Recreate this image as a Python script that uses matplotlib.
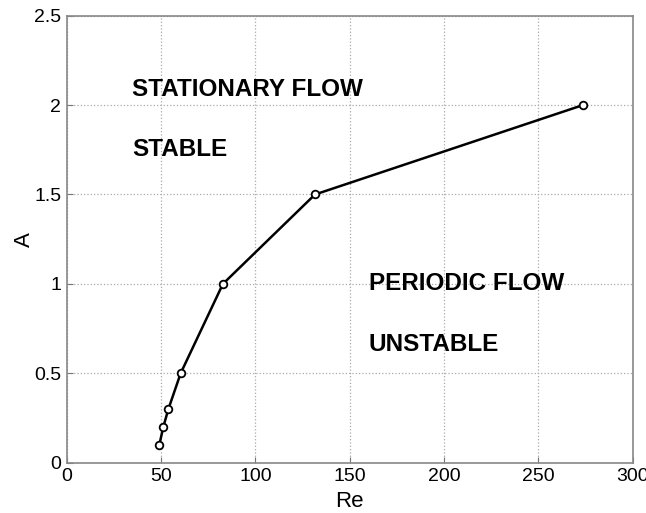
import matplotlib.pyplot as plt

re_vals = [49.1, 51.2, 53.9, 60.4, 82.8, 131.6, 273.6]
amp_vals = [0.1, 0.2, 0.3, 0.5, 1.0, 1.5, 2.0]

x_ticks = [0, 50, 100, 150, 200, 250, 300]
y_ticks = [0, 0.5, 1, 1.5, 2, 2.5]
y_labels = ["0", "0.5", "1", "1.5", "2", "2.5"]

plt.rcParams["font.family"] = "Liberation Sans"

fig = plt.figure(figsize=(6.46, 5.13), dpi=100)
ax = fig.add_axes([66.7 / 646, 1 - 462.7 / 513, 566 / 646, 447 / 513])

ax.plot(re_vals, amp_vals, color="black", linewidth=1.8, marker="o",
        markersize=5.5, markerfacecolor="white", markeredgecolor="black",
        markeredgewidth=1.3)

ax.set_xlim(0, 300)
ax.set_ylim(0, 2.5)
ax.set_xticks(x_ticks)
ax.set_yticks(y_ticks)
ax.set_yticklabels(y_labels)
ax.tick_params(direction="in", labelsize=14, length=4, color="#777777", pad=4)
ax.grid(True, linestyle=":", color="#aaaaaa", linewidth=0.9)
for s in ax.spines.values():
    s.set_color("#888888")
    s.set_linewidth(1.2)

ax.set_xlabel("Re", fontsize=16, labelpad=4)
ax.set_ylabel("A", fontsize=16, labelpad=-1)

txt = dict(fontsize=17.5, fontweight="bold", va="center", ha="left")
ax.text(34.7, 2.09, "STATIONARY FLOW", **txt)
ax.text(34.7, 1.75, "STABLE", **txt)
ax.text(160, 1.0, "PERIODIC FLOW", **txt)
ax.text(160, 0.66, "UNSTABLE", **txt)

fig.savefig("out.png", dpi=100)
